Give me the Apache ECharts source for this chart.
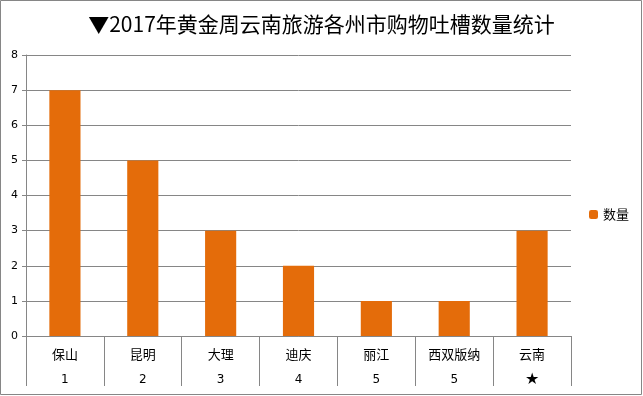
<!DOCTYPE html>
<html><head><meta charset="utf-8">
<script src="https://cdn.jsdelivr.net/npm/echarts@6/dist/echarts.min.js"></script>
<style>html,body{margin:0;padding:0;background:#fff}#c{width:643px;height:396px}</style>
</head><body><div id="c"></div>
<script>
const titleText = '▼2017年黄金周云南旅游各州市购物吐槽数量统计';
const categories = ['保山','昆明','大理','迪庆','丽江','西双版纳','云南'];
const ranks = ['1','2','3','4','5','5','★'];
const seriesName = '数量';
const values = [7,5,3,2,1,1,3];
const yTicks = [0,1,2,3,4,5,6,7,8];

const chart = echarts.init(document.getElementById('c'));
const font = "'Noto Sans CJK SC','DejaVu Sans',sans-serif";
chart.setOption({
  animation:false,
  title:{text:titleText,left:'center',top:9,textStyle:{fontSize:21,fontWeight:'normal',color:'#000',fontFamily:font}},
  legend:{data:[seriesName],right:9,top:203,itemWidth:9,itemHeight:9,itemGap:5,
    textStyle:{fontSize:13,color:'#000',fontFamily:font}},
  grid:{left:26,right:72,top:55,bottom:60},
  xAxis:{type:'category',data:categories,
    axisLine:{lineStyle:{color:'#868686'}},
    axisTick:{show:true,length:50,lineStyle:{color:'#868686'},alignWithLabel:false},
    axisLabel:{margin:6,interval:0,
      formatter:function(v,i){
        const r = ranks[i];
        return '{a|'+v+'}\n'+(r==='★'?'{s|'+r+'}':'{b|'+r+'}');
      },
      rich:{a:{fontSize:13,lineHeight:24,color:'#000',fontFamily:font},
            b:{fontSize:12,lineHeight:27,color:'#000',fontFamily:"'DejaVu Sans',sans-serif"},
            s:{fontSize:16,lineHeight:27,color:'#000',fontFamily:"'DejaVu Sans',sans-serif"}}}
  },
  yAxis:{type:'value',min:yTicks[0],max:yTicks[yTicks.length-1],interval:1,
    axisLine:{show:true,lineStyle:{color:'#868686'}},
    axisTick:{show:true,length:4,lineStyle:{color:'#868686'}},
    splitLine:{lineStyle:{color:'#868686'}},
    axisLabel:{fontSize:11,color:'#000',margin:8,fontFamily:"'DejaVu Sans',sans-serif"}},
  series:[{name:seriesName,type:'bar',data:values,barWidth:'40%',itemStyle:{color:'#E46C0A'}}],
  graphic:[{type:'rect',shape:{x:0.5,y:0.5,width:641,height:394},style:{fill:'none',stroke:'#868686',lineWidth:1},silent:true}]
});
</script></body></html>
